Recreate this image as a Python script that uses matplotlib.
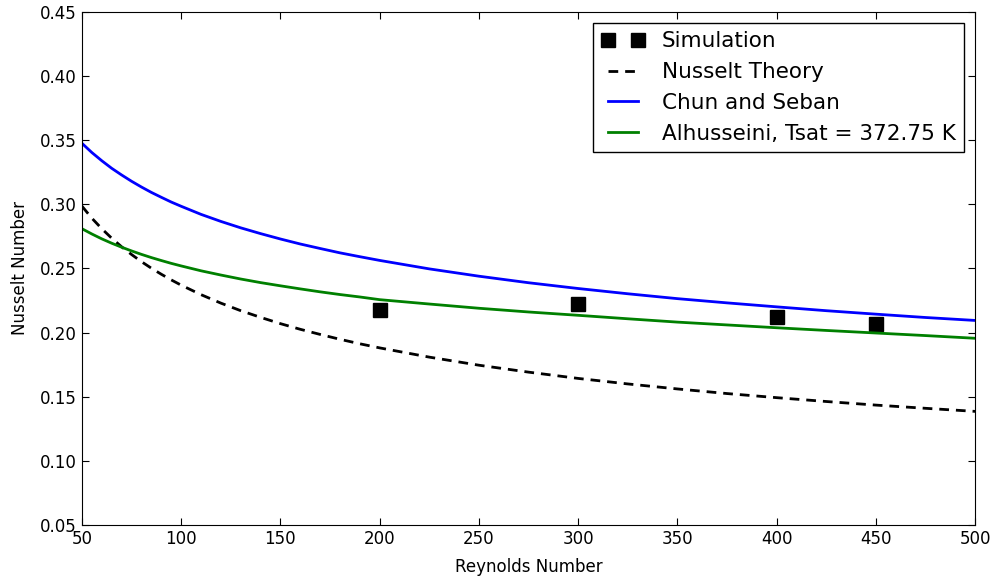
import numpy as np
from matplotlib import pyplot as plt

# simulation points
re_sim = [200, 300, 400, 450]
nu_sim = [0.218, 0.222, 0.212, 0.207]

# curves, values
re_curve = [50, 55, 60, 65, 70, 75, 80, 85, 90, 95, 100, 110, 120, 130, 140, 150,
            160, 170, 180, 190, 200, 225, 250, 275, 300, 325, 350, 375, 400, 425,
            450, 475, 500]
nu_nusselt = [0.2986, 0.2892, 0.2810, 0.2736, 0.2669, 0.2609, 0.2553, 0.2502, 0.2455,
              0.2411, 0.2370, 0.2296, 0.2230, 0.2171, 0.2119, 0.2070, 0.2026, 0.1986,
              0.1948, 0.1913, 0.1881, 0.1809, 0.1746, 0.1692, 0.1643, 0.1600, 0.1561,
              0.1525, 0.1493, 0.1463, 0.1435, 0.1410, 0.1386]
nu_chun = [0.3476, 0.3404, 0.3340, 0.3281, 0.3229, 0.3180, 0.3135, 0.3093, 0.3055,
           0.3018, 0.2985, 0.2922, 0.2867, 0.2817, 0.2772, 0.2730, 0.2691, 0.2656,
           0.2622, 0.2592, 0.2563, 0.2497, 0.2440, 0.2389, 0.2344, 0.2303, 0.2265,
           0.2232, 0.2201, 0.2171, 0.2144, 0.2118, 0.2095]
nu_alh = [0.2810, 0.2769, 0.2731, 0.2697, 0.2666, 0.2637, 0.2610, 0.2585, 0.2562,
          0.2540, 0.2520, 0.2482, 0.2449, 0.2418, 0.2390, 0.2365, 0.2341, 0.2318,
          0.2297, 0.2278, 0.2257, 0.2223, 0.2190, 0.2161, 0.2135, 0.2108, 0.2082,
          0.2060, 0.2038, 0.2017, 0.1997, 0.1977, 0.1956]

plt.rcParams['font.size'] = 12
fig = plt.figure(figsize=(9.97, 5.84), dpi=100)
ax = fig.add_axes([0.0822, 0.101, 0.8958, 0.8785])

ax.plot(re_sim, nu_sim, 's', color='k', markersize=9.5, label='Simulation')
ax.plot(re_curve, nu_nusselt, '--', color='k', lw=2, dashes=(3.5, 2.5), label='Nusselt Theory')
ax.plot(re_curve, nu_chun, '-', color='b', lw=2, label='Chun and Seban')
ax.plot(re_curve, nu_alh, '-', color='g', lw=2, label='Alhusseini, Tsat = 372.75 K')

ax.set_xlim(50, 500)
ax.set_ylim(0.05, 0.45)
ax.set_xticks(np.arange(50, 501, 50))
ax.set_yticks(np.arange(0.05, 0.451, 0.05))
ax.set_yticklabels(['%.2f' % v for v in np.arange(0.05, 0.451, 0.05)])
ax.tick_params(direction='in', top=True, right=True, length=5, labelsize=12)
ax.set_xlabel('Reynolds Number', fontsize=12, labelpad=7)
ax.set_ylabel('Nusselt Number', fontsize=12, labelpad=8)

leg = ax.legend(loc='upper right', numpoints=2, fontsize=15.5, fancybox=False,
                framealpha=1, handlelength=2.0, handletextpad=0.8, borderpad=0.4,
                borderaxespad=0.5, labelspacing=0.5)
leg.get_frame().set_edgecolor('k')

fig.savefig('out.png', dpi=100)
